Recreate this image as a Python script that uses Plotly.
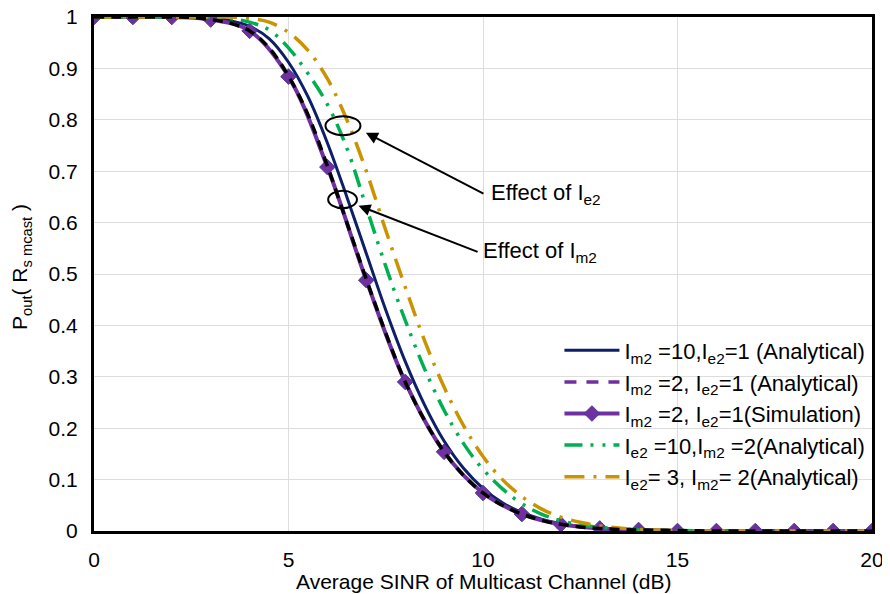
import plotly.graph_objects as go

x_half = [0, 0.5, 1, 1.5, 2, 2.5, 3, 3.5, 4, 4.5, 5, 5.5, 6, 6.5, 7, 7.5, 8, 8.5, 9, 9.5,
          10, 10.5, 11, 11.5, 12, 12.5, 13, 13.5, 14, 15, 16, 17, 18, 19, 20]

# Im2=10, Ie2=1 (Analytical)
y_im10 = [1, 1, 1, 1, 1, 1, 0.998, 0.993, 0.982, 0.958, 0.912, 0.845, 0.755, 0.65, 0.54, 0.43,
          0.33, 0.245, 0.175, 0.122, 0.083, 0.055, 0.036, 0.023, 0.014, 0.009, 0.005, 0.003,
          0.002, 0.001, 0, 0, 0, 0, 0]
# Im2=2, Ie2=1 (Analytical)
y_im2 = [1, 1, 1, 1, 1, 0.999, 0.995, 0.988, 0.973, 0.94, 0.885, 0.81, 0.71, 0.60, 0.49, 0.385,
         0.29, 0.215, 0.154, 0.108, 0.074, 0.05, 0.033, 0.021, 0.013, 0.008, 0.005, 0.003,
         0.002, 0.001, 0, 0, 0, 0, 0]
# Ie2=10, Im2=2 (Analytical)
y_ie10 = [1, 1, 1, 1, 1, 1, 1, 0.997, 0.99, 0.975, 0.94, 0.89, 0.83, 0.745, 0.63, 0.515,
          0.41, 0.315, 0.235, 0.17, 0.12, 0.082, 0.053, 0.033, 0.02, 0.012, 0.007, 0.004,
          0.002, 0.001, 0, 0, 0, 0, 0]
# Ie2=3, Im2=2 (Analytical)
y_ie3 = [1, 1, 1, 1, 1, 1, 1, 1, 0.997, 0.99, 0.97, 0.935, 0.88, 0.80, 0.70, 0.585,
         0.475, 0.37, 0.28, 0.205, 0.145, 0.1, 0.067, 0.043, 0.027, 0.017, 0.01, 0.006,
         0.003, 0.001, 0, 0, 0, 0, 0]

# Simulation points (integer dB)
x_sim = list(range(0, 21))
y_sim = [1, 1, 1, 0.995, 0.973, 0.884, 0.708, 0.488, 0.29, 0.154, 0.074, 0.033, 0.013,
         0.005, 0.002, 0, 0, 0, 0, 0, 0]

names = ["I<sub>m2</sub> =10,I<sub>e2</sub>=1 (Analytical)",
         "I<sub>m2</sub> =2, I<sub>e2</sub>=1 (Analytical)",
         "I<sub>m2</sub> =2, I<sub>e2</sub>=1(Simulation)",
         "I<sub>e2</sub> =10,I<sub>m2</sub> =2(Analytical)",
         "I<sub>e2</sub>= 3, I<sub>m2</sub>= 2(Analytical)"]

x_title = "Average SINR of Multicast Channel (dB)"
y_title = "P<sub>out</sub>( R<sub>s mcast</sub> )"

NAVY = "#0D1F66"
PURPLE = "#7030A0"
GREEN = "#00B050"
GOLD = "#C99400"

fig = go.Figure()

fig.add_trace(go.Scatter(x=x_half, y=y_im10, mode="lines", name=names[0],
                         line=dict(color=NAVY, width=3, shape="spline")))
# legend entry for the purple dashed analytical curve
fig.add_trace(go.Scatter(x=[None], y=[None], mode="lines", name=names[1],
                         line=dict(color=PURPLE, width=3.5, dash="12px,10px")))
fig.add_trace(go.Scatter(x=x_sim, y=y_sim, mode="lines+markers", name=names[2],
                         line=dict(color=PURPLE, width=4, shape="spline"),
                         marker=dict(symbol="diamond", size=12, color=PURPLE,
                                     line=dict(color="#4A3A9A", width=1))))
fig.add_trace(go.Scatter(x=x_half, y=y_ie10, mode="lines", name=names[3],
                         line=dict(color=GREEN, width=3.5, shape="spline",
                                   dash="18px,8px,3px,9px,3px,8px")))
fig.add_trace(go.Scatter(x=x_half, y=y_ie3, mode="lines", name=names[4],
                         line=dict(color=GOLD, width=3.5, shape="spline",
                                   dash="20px,9px,3px,9px")))
# analytical Im2=2 curve drawn over the simulation line
fig.add_trace(go.Scatter(x=x_half, y=y_im2, mode="lines", name=names[1], showlegend=False,
                         line=dict(color="black", width=3.5, shape="spline", dash="10px,7px")))

# ellipses marking the effects
fig.add_shape(type="circle", xref="x", yref="y", x0=5.95, x1=6.85, y0=0.770, y1=0.807,
              line=dict(color="black", width=2))
fig.add_shape(type="circle", xref="x", yref="y", x0=6.02, x1=6.76, y0=0.628, y1=0.662,
              line=dict(color="black", width=2))

fig.add_annotation(x=6.99, y=0.775, ax=10.05, ay=0.655, axref="x", ayref="y",
                   xref="x", yref="y", text="", showarrow=True, arrowhead=2,
                   arrowsize=1.2, arrowwidth=2, arrowcolor="black")
fig.add_annotation(x=6.8, y=0.633, ax=9.9, ay=0.542, axref="x", ayref="y",
                   xref="x", yref="y", text="", showarrow=True, arrowhead=2,
                   arrowsize=1.2, arrowwidth=2, arrowcolor="black")
fig.add_annotation(x=10.15, y=0.655, xref="x", yref="y", xanchor="left", yanchor="middle",
                   text="Effect of I<sub>e2</sub>", showarrow=False,
                   font=dict(size=22, color="black"))
fig.add_annotation(x=9.95, y=0.542, xref="x", yref="y", xanchor="left", yanchor="middle",
                   text="Effect of I<sub>m2</sub>", showarrow=False,
                   font=dict(size=22, color="black"))

# axis titles
fig.add_annotation(x=0.5, y=-0.099, xref="paper", yref="paper", xanchor="center",
                   yanchor="middle", text=x_title, showarrow=False, font=dict(size=21))
fig.add_annotation(x=-0.093, y=0.513, xref="paper", yref="paper", xanchor="center",
                   yanchor="middle", text=y_title, showarrow=False, textangle=-90,
                   font=dict(size=21))

# the page body adds an 8px offset, so the figure is sized to compensate
fig.update_layout(
    width=882, height=586,
    margin=dict(l=86, r=18, t=9, b=63),
    paper_bgcolor="white", plot_bgcolor="white",
    font=dict(family="Liberation Sans, Arial, sans-serif", size=21, color="black"),
    legend=dict(x=0.998, y=0.392, xanchor="right", yanchor="top",
                bgcolor="rgba(0,0,0,0)", font=dict(size=22), itemwidth=55,
                tracegroupgap=0),
)
fig.update_xaxes(range=[0, 20], dtick=5, showgrid=True, gridcolor="#DDDDDD", gridwidth=1,
                 zeroline=False, showline=True, mirror=True, linecolor="black", linewidth=3,
                 ticks="", ticklabelstandoff=8, automargin=False, ticklabeloverflow="allow")
fig.update_yaxes(range=[0, 1], dtick=0.1, showgrid=True, gridcolor="#DDDDDD", gridwidth=1,
                 zeroline=False, showline=True, mirror=True, linecolor="black", linewidth=3,
                 ticks="", ticklabelstandoff=9, automargin=False, ticklabeloverflow="allow")

fig.write_html("out.html")
